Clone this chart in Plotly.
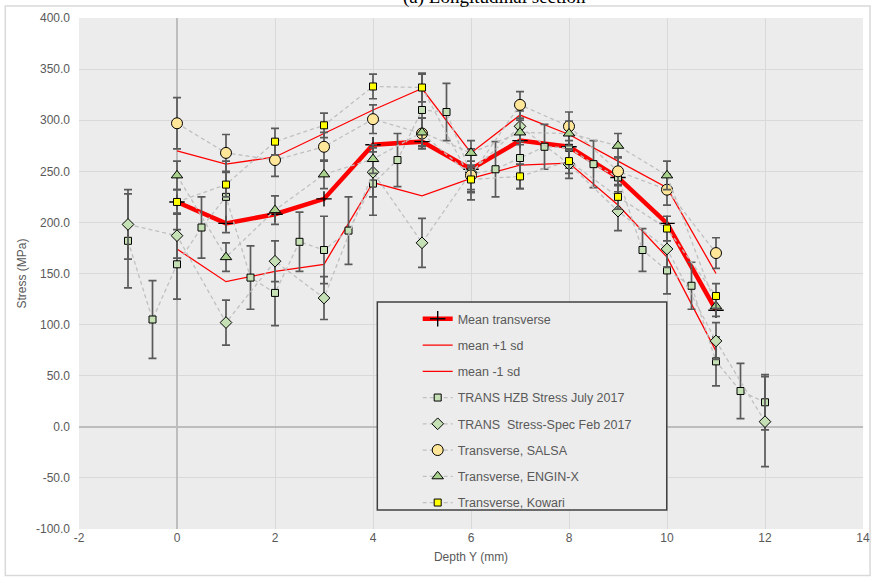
import plotly.graph_objects as go

# ---------------- data ----------------
depth_int = [0, 1, 2, 3, 4, 5, 6, 7, 8, 9, 10, 11]
mean_transverse = [220, 199, 208, 223, 276, 279, 252, 280, 274, 244, 199, 114]
mean_plus_sd = [270, 257, 264, 287, 310, 331, 268, 305, 286, 260, 234, 150]
mean_minus_sd = [174, 142, 152, 159, 239, 226, 243, 256, 258, 217, 166, 74]

hzb_x = [-1, -0.5, 0, 0.5, 1, 1.5, 2, 2.5, 3, 3.5, 4, 4.5, 5, 5.5, 6, 6.5, 7, 7.5,
         8, 8.5, 9, 9.5, 10, 10.5, 11, 11.5, 12]
hzb_y = [182, 105, 159, 195, 225, 146, 131, 181, 173, 192, 238, 261, 310, 308, 247, 252,
         263, 274, 273, 257, 244, 173, 153, 138, 64, 35, 24]
hzb_err = [46, 38, 34, 30, 35, 31, 32, 29, 33, 33, 31, 26, 35, 28, 25, 27, 30, 22,
           20, 23, 20, 21, 23, 23, 24, 27, 27]

ss_x = [-1, 0, 1, 2, 3, 4, 5, 6, 7, 8, 9, 10, 11, 12]
ss_y = [198, 187, 102, 162, 126, 249, 180, 249, 294, 257, 211, 174, 84, 5]
ss_err = [34, 22, 22, 20, 21, 24, 24, 20, 15, 14, 19, 18, 18, 44]

salsa_x = [0, 1, 2, 3, 4, 5, 6, 7, 8, 9, 10, 11]
salsa_y = [297, 268, 261, 274, 301, 287, 246, 315, 294, 250, 232, 170]
salsa_err = [25, 18, 16, 14, 14, 15, 14, 13, 14, 14, 15, 15]

enginx_x = [0, 1, 2, 3, 4, 5, 6, 7, 8, 9, 10, 11]
enginx_y = [246, 166, 212, 247, 262, 288, 268, 288, 287, 275, 246, 118]
enginx_err = [14, 14, 14, 14, 14, 14, 12, 12, 12, 12, 14, 10]

kowari_x = [0, 1, 2, 3, 4, 5, 6, 7, 8, 9, 10, 11]
kowari_y = [220, 237, 279, 295, 333, 332, 242, 245, 260, 225, 194, 128]
kowari_err = [12, 12, 13, 12, 12, 14, 12, 12, 12, 12, 12, 12]

x_tick_vals = [-2, 0, 2, 4, 6, 8, 10, 12, 14]
x_tick_text = ["-2", "0", "2", "4", "6", "8", "10", "12", "14"]
y_tick_vals = [-100, -50, 0, 50, 100, 150, 200, 250, 300, 350, 400]
y_tick_text = ["-100.0", "-50.0", "0.0", "50.0", "100.0", "150.0", "200.0",
               "250.0", "300.0", "350.0", "400.0"]

# ---------------- styles ----------------
ERR = dict(type="data", visible=True, color="#5a5a5a", thickness=1.7, width=4)
DASH = dict(color="#c0c0c0", width=1.3, dash="4px,3px")

fig = go.Figure()

fig.add_trace(go.Scatter(
    x=depth_int, y=mean_transverse, name="Mean transverse", mode="lines+markers",
    line=dict(color="#ff0000", width=4.5),
    marker=dict(symbol="cross-thin", size=11, color="black", line=dict(color="black", width=1.4)),
    legendgroup="a"))
fig.add_trace(go.Scatter(
    x=depth_int, y=mean_plus_sd, name="mean +1 sd", mode="lines",
    line=dict(color="#ff0000", width=1.3), legendgroup="b"))
fig.add_trace(go.Scatter(
    x=depth_int, y=mean_minus_sd, name="mean -1 sd", mode="lines",
    line=dict(color="#ff0000", width=1.3), legendgroup="c"))

def series(x, y, err, name, symbol, size, fill, grp):
    fig.add_trace(go.Scatter(
        x=x, y=y, name=name, mode="lines+markers", line=DASH,
        error_y=dict(array=err, **ERR),
        marker=dict(symbol=symbol, size=size, color=fill, line=dict(color="black", width=1)),
        legendgroup=grp))

series(hzb_x, hzb_y, hzb_err, "TRANS HZB Stress July 2017", "square", 7, "#c5e0b4", "d")
series(ss_x, ss_y, ss_err, "TRANS  Stress-Spec Feb 2017", "diamond", 9, "#c5e0b4", "e")
series(salsa_x, salsa_y, salsa_err, "Transverse, SALSA", "circle", 11, "#ffe699", "f")
series(enginx_x, enginx_y, enginx_err, "Transverse, ENGIN-X", "triangle-up", 10, "#a9d18e", "g")
series(kowari_x, kowari_y, kowari_err, "Transverse, Kowari", "square", 7, "#ffff00", "h")

AX_FONT = dict(family="Liberation Sans Narrow, Arial Narrow, Liberation Sans", size=12, color="#595959")

fig.update_layout(
    width=880, height=581,
    margin=dict(l=79, r=10, t=18, b=52),
    paper_bgcolor="white", plot_bgcolor="#ececec",
    showlegend=True,
    legend=dict(x=0.432, y=0.44, xanchor="left", yanchor="top",
                bgcolor="rgba(0,0,0,0)", borderwidth=0, itemwidth=30,
                tracegroupgap=7,
                font=dict(family="Liberation Sans, Arial", size=12.5, color="#595959")),
    xaxis=dict(range=[-2, 14], tickvals=x_tick_vals, ticktext=x_tick_text,
               showgrid=True, gridcolor="#d9d9d9", gridwidth=1,
               zeroline=True, zerolinecolor="#bdbdbd", zerolinewidth=2,
               showline=False, tickfont=AX_FONT, ticks="",
               title=dict(text="Depth Y (mm)", font=AX_FONT, standoff=8)),
    yaxis=dict(range=[-100, 400], tickvals=y_tick_vals, ticktext=y_tick_text,
               showgrid=True, gridcolor="#d9d9d9", gridwidth=1,
               zeroline=True, zerolinecolor="#bdbdbd", zerolinewidth=2,
               showline=False, tickfont=AX_FONT, ticks="", ticklabelstandoff=8,
               title=dict(text="Stress (MPa)", font=AX_FONT, standoff=6)),
    shapes=[
        dict(type="rect", xref="paper", yref="paper", x0=0.3805, x1=0.7497, y0=0.0372, y1=0.444,
             line=dict(color="#404040", width=1.5), fillcolor="#ececec", layer="above"),
        dict(type="rect", xref="paper", yref="paper", x0=-0.094, x1=1.009, y0=-0.091, y1=1.0235,
             line=dict(color="#d9d9d9", width=1.5), fillcolor="rgba(0,0,0,0)", layer="below"),
    ],
    annotations=[
        dict(text="(a) Longitudinal section", xref="paper", yref="paper", x=0.53, y=1.041,
             xanchor="center", yanchor="middle", showarrow=False,
             font=dict(family="Liberation Serif, Times New Roman", size=19, color="black")),
    ],
)

fig.write_html("out.html")
